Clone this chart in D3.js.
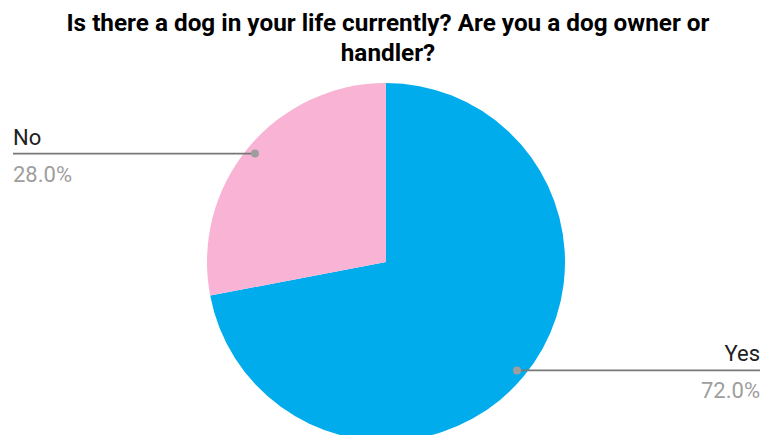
<!DOCTYPE html>
<html>
<head>
<meta charset="utf-8">
<script src="https://cdn.jsdelivr.net/npm/d3@7"></script>
<style>
  html, body { margin: 0; padding: 0; background: #fff; }
  svg { display: block; font-family: Roboto, "Noto Sans", sans-serif; }
</style>
</head>
<body>
<svg id="chart" width="776" height="435"></svg>
<script>
// Survey answers and their shares (percent)
const categories = ["Yes", "No"];
const shares = [72.0, 28.0];
const sliceColors = ["#00acec", "#f8b3d5"];
const titleLines = [
  "Is there a dog in your life currently? Are you a dog owner or",
  "handler?"
];

const svg = d3.select("#chart");
const cx = 386, cy = 262, radius = 179;

// Title
svg.append("g").selectAll("text")
  .data(titleLines)
  .join("text")
  .attr("x", 388)
  .attr("y", (d, i) => 31 + i * 30)
  .attr("text-anchor", "middle")
  .attr("font-size", 24.3)
  .attr("font-weight", 700)
  .attr("fill", "#000")
  .text(d => d);

// Pie, clockwise from 12 o'clock in data order
const data = categories.map((c, i) => ({ name: c, value: shares[i], color: sliceColors[i] }));
const pie = d3.pie().value(d => d.value).sort(null);
const arcs = pie(data);
const arc = d3.arc().innerRadius(0).outerRadius(radius);

const g = svg.append("g").attr("transform", `translate(${cx},${cy})`);
g.selectAll("path")
  .data(arcs)
  .join("path")
  .attr("d", arc)
  .attr("fill", d => d.data.color);

// Leader lines and labels
const anchorArc = d3.arc().innerRadius(radius * 0.95).outerRadius(radius * 0.95);
const labelLayout = {
  "Yes": { side: "right", edge: 760 },
  "No":  { side: "left",  edge: 13 }
};

arcs.forEach(a => {
  const [ax, ay] = anchorArc.centroid(a);
  const px = cx + ax, py = cy + ay;
  const lay = labelLayout[a.data.name];
  const lbl = svg.append("g");
  lbl.append("line")
    .attr("x1", px).attr("y1", py)
    .attr("x2", lay.edge).attr("y2", py)
    .attr("stroke", "#777")
    .attr("stroke-width", 1.6);
  lbl.append("circle")
    .attr("cx", px).attr("cy", py).attr("r", 4)
    .attr("fill", "#9e9e9e");
  const anchor = lay.side === "right" ? "end" : "start";
  lbl.append("text")
    .attr("x", lay.edge).attr("y", py - 9)
    .attr("text-anchor", anchor)
    .attr("font-size", 22)
    .attr("fill", "#212121")
    .text(a.data.name);
  lbl.append("text")
    .attr("x", lay.edge).attr("y", py + 28)
    .attr("text-anchor", anchor)
    .attr("font-size", 22)
    .attr("fill", "#9e9e9e")
    .text(d3.format(".1f")(a.data.value) + "%");
});
</script>
</body>
</html>
